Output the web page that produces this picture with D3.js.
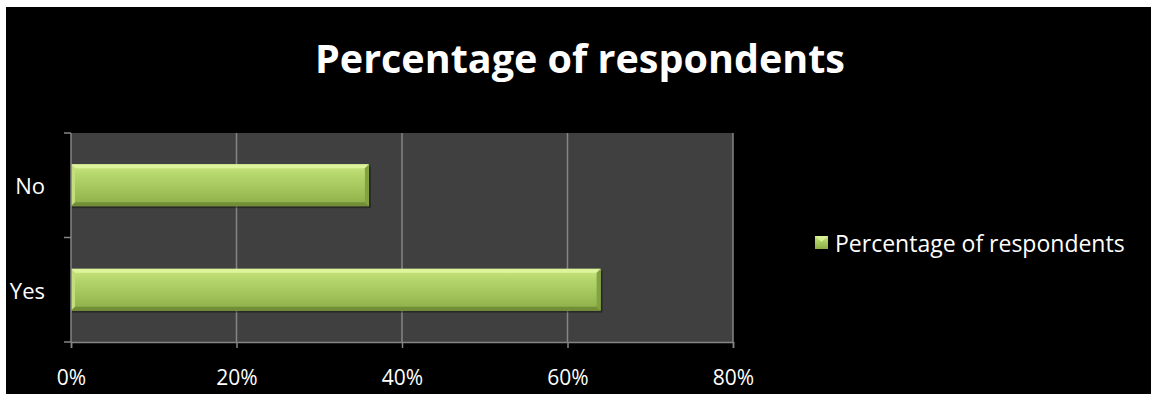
<!DOCTYPE html>
<html>
<head>
<meta charset="utf-8">
<script src="https://cdn.jsdelivr.net/npm/d3@7"></script>
<style>
  html, body { margin: 0; padding: 0; background: #fff; }
  svg { display: block; }
  text { font-family: "Open Sans", "Noto Sans", sans-serif; fill: #fff; }
</style>
</head>
<body>
<svg id="chart" width="1152" height="394"></svg>
<script>
// ---------- data ----------
const categories = ["No", "Yes"];
const values = [36, 64];
const xTicks = [0, 20, 40, 60, 80];
const seriesName = "Percentage of respondents";
const titleText = "Percentage of respondents";

const svg = d3.select("#chart");
const W = 1152, H = 394;

// black chart area (thin white margin on top/left)
svg.append("rect").attr("x", 6).attr("y", 7).attr("width", W - 7).attr("height", H - 7).attr("fill", "#000");

// gradient for bars
const defs = svg.append("defs");
const grad = defs.append("linearGradient").attr("id", "barGrad").attr("x1", 0).attr("y1", 0).attr("x2", 0).attr("y2", 1);
grad.append("stop").attr("offset", "0%").attr("stop-color", "#cbe783");
grad.append("stop").attr("offset", "25%").attr("stop-color", "#b5d66b");
grad.append("stop").attr("offset", "70%").attr("stop-color", "#9ebf56");
grad.append("stop").attr("offset", "100%").attr("stop-color", "#8cad46");

const margin = { top: 133, left: 71 };
const innerW = 662, innerH = 209;
const root = svg.append("g").attr("transform", `translate(${margin.left},${margin.top})`);

// ---------- scales ----------
const x = d3.scaleLinear().domain([0, 80]).range([0, innerW]);
// first category ("No") sits at the top
const y = d3.scaleBand().domain(categories).range([0, innerH]).paddingInner(0.6).paddingOuter(0.3);

// plot area
root.append("rect").attr("width", innerW).attr("height", innerH).attr("fill", "#404040");

// gridlines
root.selectAll("line.grid").data(xTicks.slice(1)).join("line")
  .attr("class", "grid")
  .attr("x1", d => x(d)).attr("x2", d => x(d))
  .attr("y1", 0).attr("y2", innerH)
  .attr("stroke", "#858585").attr("stroke-width", 1.5);

// ---------- bars ----------
const bars = root.selectAll("g.bar").data(categories.map((c, i) => ({ c, v: values[i] }))).join("g").attr("class", "bar");
bars.each(function (d) {
  const g = d3.select(this);
  const x0 = x(0), x1 = x(d.v);
  const y0 = y(d.c), h = y.bandwidth();
  const b = 4; // bevel
  // shadow
  g.append("rect").attr("x", x0 + 1).attr("y", y0 + 2).attr("width", x1 - x0 + 1).attr("height", h)
    .attr("fill", "#000").attr("opacity", 0.35);
  g.append("rect").attr("x", x0).attr("y", y0).attr("width", x1 - x0).attr("height", h).attr("fill", "url(#barGrad)");
  // top bevel (light)
  g.append("polygon").attr("points", `${x0},${y0} ${x1},${y0} ${x1 - b},${y0 + b} ${x0 + b},${y0 + b}`).attr("fill", "#ddf49c");
  // left bevel
  g.append("polygon").attr("points", `${x0},${y0} ${x0 + b},${y0 + b} ${x0 + b},${y0 + h - b} ${x0},${y0 + h}`).attr("fill", "#c2df7c");
  // right bevel (dark)
  g.append("polygon").attr("points", `${x1},${y0} ${x1},${y0 + h} ${x1 - b},${y0 + h - b} ${x1 - b},${y0 + b}`).attr("fill", "#83a340");
  // bottom bevel (dark)
  g.append("polygon").attr("points", `${x0},${y0 + h} ${x1},${y0 + h} ${x1 - b},${y0 + h - b} ${x0 + b},${y0 + h - b}`).attr("fill", "#728f37");
});

// ---------- axes ----------
const xAxis = d3.axisBottom(x).tickValues(xTicks).tickSize(6).tickPadding(22).tickFormat(d => d + "%");
const xg = root.append("g").attr("transform", `translate(0,${innerH})`).call(xAxis);
xg.select(".domain").attr("stroke", "#858585").attr("stroke-width", 1.5);
xg.selectAll(".tick line").attr("stroke", "#858585").attr("stroke-width", 1.5);
xg.selectAll(".tick text").attr("font-size", 21).attr("fill", "#fff").attr("font-family", "'Open Sans', sans-serif");

// y axis: ticks at band boundaries
const yBounds = [0, innerH / 2, innerH];
root.append("line").attr("x1", 0).attr("x2", 0).attr("y1", 0).attr("y2", innerH).attr("stroke", "#858585").attr("stroke-width", 1.5);
root.selectAll("line.ytick").data(yBounds).join("line").attr("class", "ytick")
  .attr("x1", -7).attr("x2", 0).attr("y1", d => d).attr("y2", d => d)
  .attr("stroke", "#858585").attr("stroke-width", 1.5);
root.selectAll("text.ylbl").data(categories).join("text").attr("class", "ylbl")
  .attr("x", -26).attr("y", d => y(d) + y.bandwidth() / 2)
  .attr("text-anchor", "end").attr("dominant-baseline", "central")
  .attr("font-size", 22).text(d => d);

// ---------- title ----------
svg.append("text").attr("x", 580).attr("y", 58)
  .attr("text-anchor", "middle").attr("dominant-baseline", "central")
  .attr("font-size", 39.5).attr("font-weight", "bold").text(titleText);

// ---------- legend ----------
const lg = svg.append("g").attr("transform", "translate(815,236)");
lg.append("rect").attr("width", 13).attr("height", 13).attr("fill", "url(#barGrad)");
lg.append("polygon").attr("points", "0,0 13,0 6.5,6").attr("fill", "#ddf49c").attr("opacity", 0.8);
lg.append("text").attr("x", 20).attr("y", 7).attr("dominant-baseline", "central").attr("font-size", 23).text(seriesName);
</script>
</body>
</html>
